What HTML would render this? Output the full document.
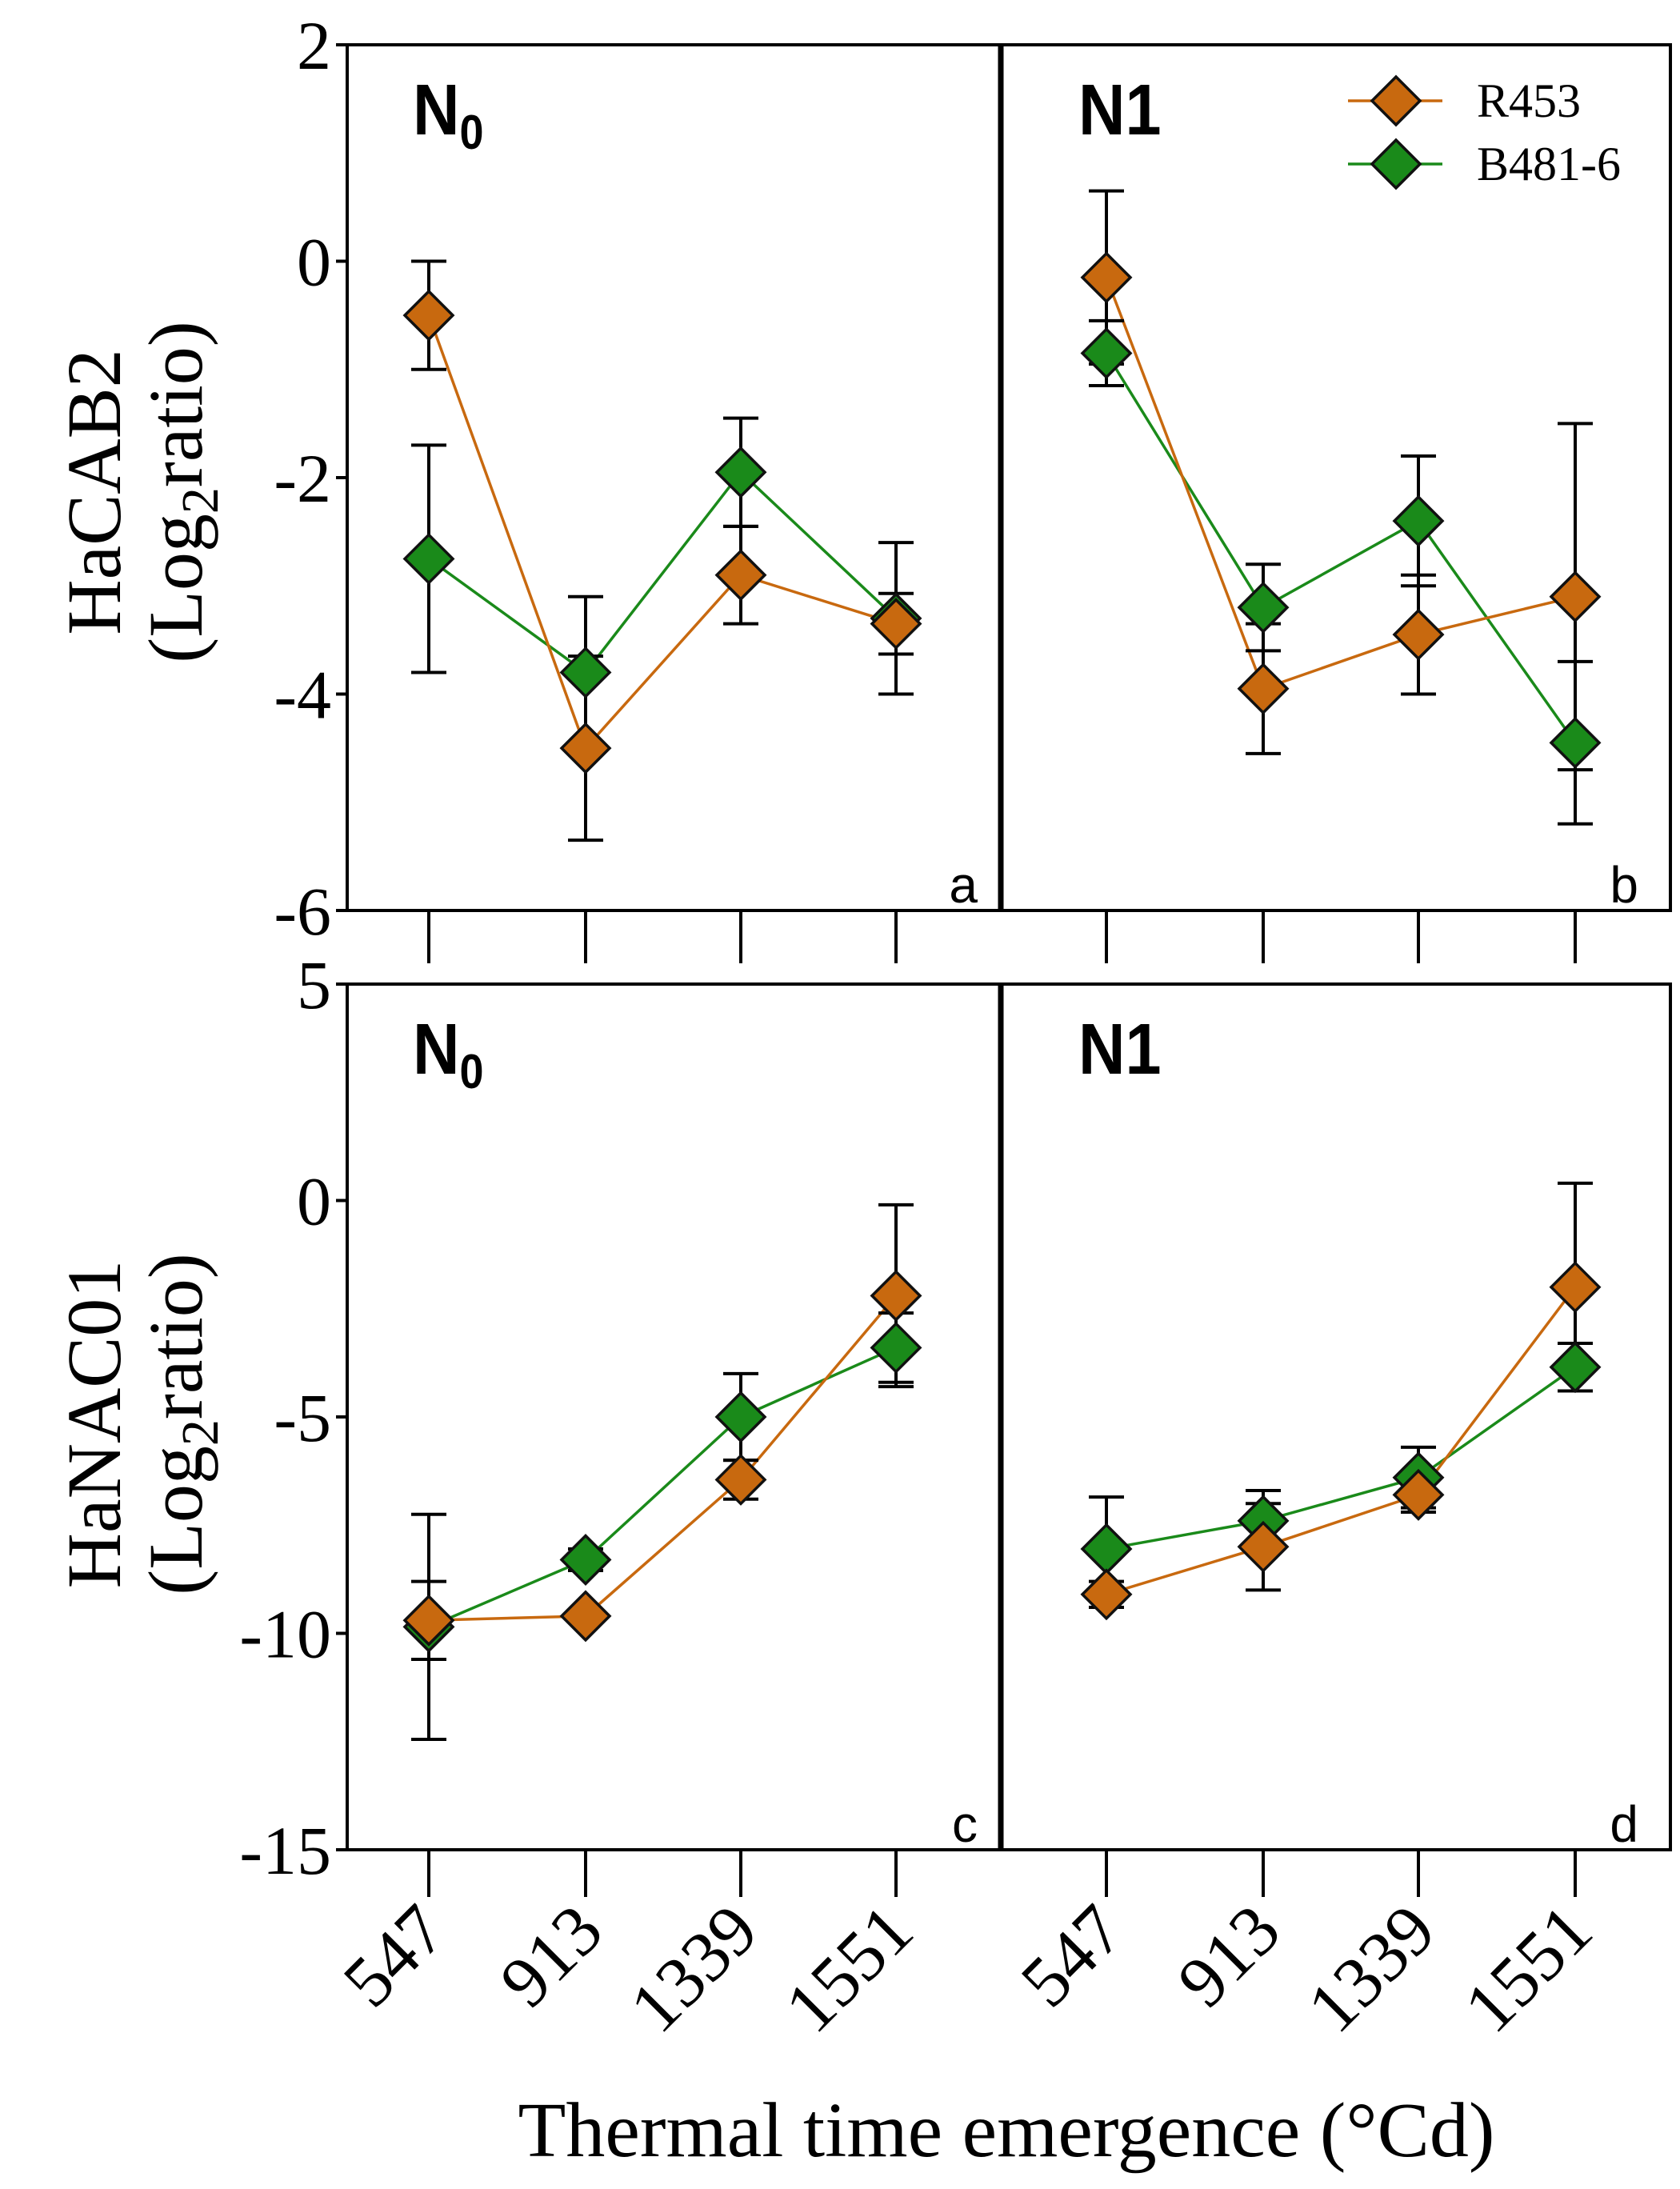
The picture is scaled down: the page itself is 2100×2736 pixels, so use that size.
<!DOCTYPE html>
<html><head><meta charset="utf-8"><style>
html,body{margin:0;padding:0;background:#fff;}
svg{display:block;}
text{font-family:"Liberation Serif",serif;}
.sans{font-family:"Liberation Sans",sans-serif;}
</style></head><body>
<svg id="chart" width="2100" height="2736" viewBox="0 0 2100 2736" xmlns="http://www.w3.org/2000/svg"></svg>
<script>
const categories = ["547","913","1339","1551"];
const topTicks = [2,0,-2,-4,-6];
const botTicks = [5,0,-5,-10,-15];
const aR = [-0.5,-4.5,-2.9,-3.35], aRe = [0.5,0.85,0.45,0.28];
const aB = [-2.75,-3.8,-1.95,-3.3], aBe = [1.05,0.7,0.5,0.7];
const bR = [-0.15,-3.95,-3.45,-3.1], bRe = [0.8,0.6,0.55,1.6];
const bB = [-0.85,-3.2,-2.4,-4.45], bBe = [0.3,0.4,0.6,0.75];
const cR = [-9.7,-9.6,-6.45,-2.2], cRe = [0.9,0.15,0.45,2.1];
const cB = [-9.85,-8.3,-5.0,-3.4], cBe = [2.6,0.25,1.0,0.8];
const dR = [-9.1,-8.0,-6.8,-2.0], dRe = [0.3,1.0,0.4,2.4];
const dB = [-8.05,-7.4,-6.4,-3.85], dBe = [1.2,0.7,0.7,0.55];

const NS="http://www.w3.org/2000/svg";
const svg=document.getElementById('chart');
function el(tag,attrs,parent){const e=document.createElementNS(NS,tag);for(const k in attrs)e.setAttribute(k,attrs[k]);(parent||svg).appendChild(e);return e;}

const X0=434, XD=1251, X1=2088;
const leftX=[536,732,926,1120], rightX=[1383,1579,1773,1969];
function xPos(i,right){return right?rightX[i]:leftX[i];}
const rows=[{top:56,bot:1138,max:2,min:-6,ticks:topTicks,tickEnd:1204},{top:1230,bot:2312,max:5,min:-15,ticks:botTicks,tickEnd:2371}];
function yScale(r,v){return r.top+(r.max-v)/(r.max-r.min)*(r.bot-r.top);}

const ORANGE="#c8690f", GREEN="#1a8a1a";

function drawPanel(r,right,R,Re,B,Be,letter){
  const g=el('g',{});
  
  
  [[B,Be,GREEN,'b481-6'],[R,Re,ORANGE,'r453']].forEach(([vals,errs,col,nm])=>{
    let pts=vals.map((v,i)=>xPos(i,right)+','+yScale(r,v)).join(' ');
    const l=el('polyline',{points:pts,fill:'none',stroke:col,'stroke-width':3.5},g);
    
    
  });
  [[B,Be,GREEN,'b481-6'],[R,Re,ORANGE,'r453']].forEach(([vals,errs,col,nm])=>{
    vals.forEach((v,i)=>{
      const x=xPos(i,right), yt=yScale(r,v+errs[i]), yb=yScale(r,v-errs[i]);
      const e=el('path',{d:`M${x},${yt}V${yb}M${x-22},${yt}H${x+22}M${x-22},${yb}H${x+22}`,stroke:'#000','stroke-width':4,fill:'none'},g);
      
      
    });
  });
  [[B,GREEN,'b481-6'],[R,ORANGE,'r453']].forEach(([vals,col,nm])=>{
    vals.forEach((v,i)=>{
      const x=xPos(i,right), y=yScale(r,v), s=30;
      const m=el('path',{d:`M${x},${y-s}L${x+s},${y}L${x},${y+s}L${x-s},${y}Z`,fill:col,stroke:'#111','stroke-width':3.5},g);
      
      
    });
  });
}

rows.forEach((r,ri)=>{
  const f=el('rect',{x:X0,y:r.top,width:X1-X0,height:r.bot-r.top,fill:'none',stroke:'#000','stroke-width':4});
  
  
  const dv=el('line',{x1:XD,x2:XD,y1:r.top,y2:r.bot,stroke:'#000','stroke-width':7});
  
  
  r.ticks.forEach(t=>{
    const y=yScale(r,t);
    const tk=el('line',{x1:X0-14,x2:X0,y1:y,y2:y,stroke:'#000','stroke-width':4});
    
    
    const tl=el('text',{x:X0-20,y:y+30,'text-anchor':'end','font-size':86});
    tl.textContent=t;
    
    
  });
  [...leftX,...rightX].forEach(x=>{
    const tk=el('line',{x1:x,x2:x,y1:r.bot,y2:r.tickEnd,stroke:'#000','stroke-width':4});
    
    
  });
  [['N',516,true],['N1',1348,false]].forEach(([t,x,sub])=>{
    const tx=el('text',{x:x,y:r.top+112,'font-size':90,'font-weight':'bold','class':'sans',transform:`translate(${x},0) scale(0.9,1) translate(${-x},0)`});
    if(sub){tx.textContent='N';const ts=el('tspan',{'font-size':60,dy:18},tx);ts.textContent='0';}
    else tx.textContent=t;
    
    
  });
});

drawPanel(rows[0],false,aR,aRe,aB,aBe,'a');
drawPanel(rows[0],true,bR,bRe,bB,bBe,'b');
drawPanel(rows[1],false,cR,cRe,cB,cBe,'c');
drawPanel(rows[1],true,dR,dRe,dB,dBe,'d');

[['a',1222,1128],['b',2048,1128],['c',1222,2302],['d',2048,2302]].forEach(([l,x,y])=>{
  const t=el('text',{x:x,y:y,'text-anchor':'end','font-size':64,'class':'sans'});
  t.textContent=l;
  
  
});

[...leftX,...rightX].forEach((x,i)=>{
  const t=el('text',{x:0,y:0,'text-anchor':'end','font-size':90,transform:`translate(${x+26},${2418}) rotate(-45)`});
  t.textContent=categories[i%4];
  
  
});
const xt=el('text',{x:1258,y:2695,'text-anchor':'middle','font-size':98});
xt.textContent='Thermal time emergence (°Cd)';



[['HaCAB2',615],['HaNAC01',1780]].forEach(([g,cy])=>{
  const t=el('text',{x:0,y:0,'text-anchor':'middle','font-size':96,transform:`translate(150,${cy}) rotate(-90)`});
  t.textContent=g;
  
  
  const t2=el('text',{x:0,y:0,'text-anchor':'middle','font-size':96,transform:`translate(252,${cy}) rotate(-90)`});
  t2.textContent='(Log';
  const s=el('tspan',{'font-size':66,dy:20},t2);s.textContent='2';
  const s2=el('tspan',{dy:-20},t2);s2.textContent='ratio)';
  
  
});

[['R453',ORANGE,126],['B481-6',GREEN,205]].forEach(([n,c,y])=>{
  const g=el('g',{});
  
  
  el('line',{x1:1685,x2:1803,y1:y,y2:y,stroke:c,'stroke-width':3.5},g);
  el('path',{d:`M1745,${y-30}L1775,${y}L1745,${y+30}L1715,${y}Z`,fill:c,stroke:'#111','stroke-width':3.5},g);
  const t=el('text',{x:1846,y:y+20,'font-size':60},g);t.textContent=n;
});
</script>
</body></html>
